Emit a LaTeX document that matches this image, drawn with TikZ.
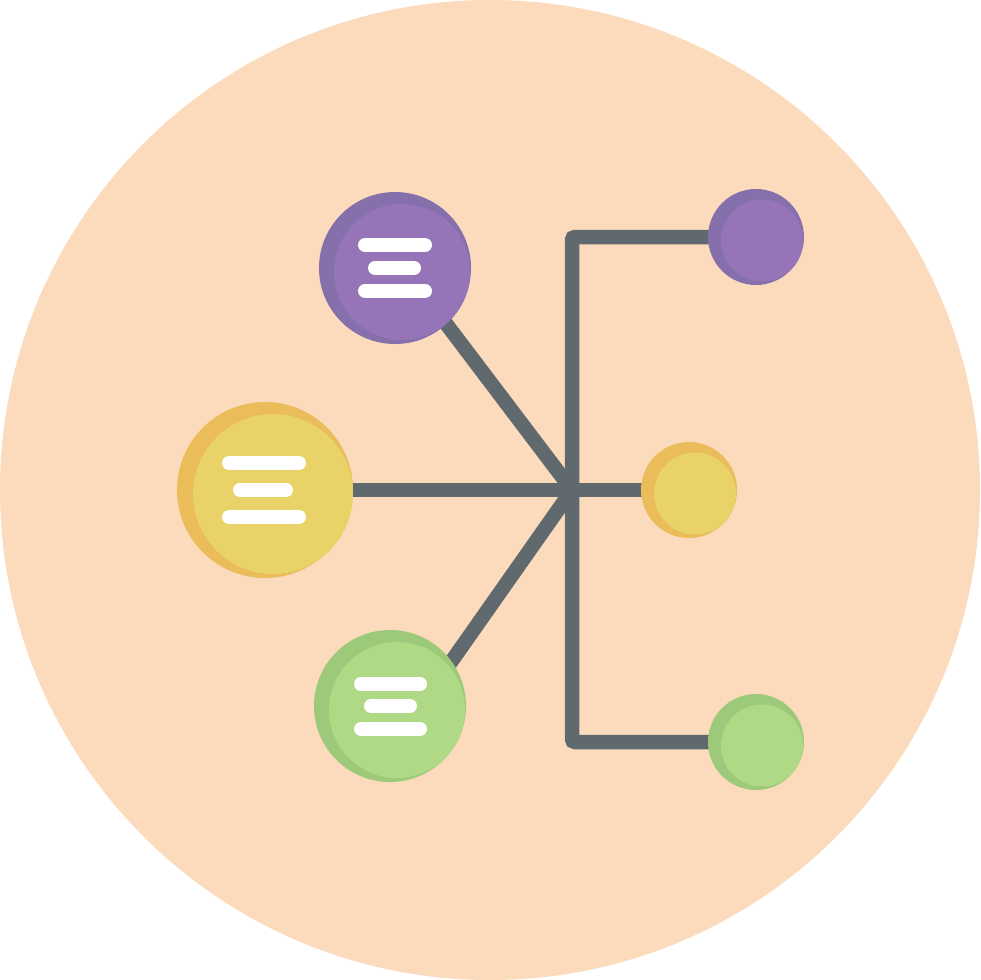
\documentclass[tikz,border=0pt]{standalone}
\begin{document}
\begin{tikzpicture}[x=1pt,y=-1pt]
\definecolor{peach}{HTML}{FCDBBD}
\definecolor{linkgray}{HTML}{5F696E}
\definecolor{purpleD}{HTML}{8570AC}
\definecolor{purpleL}{HTML}{9574B8}
\definecolor{yellowD}{HTML}{EABC5A}
\definecolor{yellowL}{HTML}{E9D268}
\definecolor{greenD}{HTML}{9DC97A}
\definecolor{greenL}{HTML}{AFD984}
\tikzset{
  link/.style={draw=linkgray, line width=14.5pt},
  bubble/.style={circle, inner sep=0pt, minimum size=#1},
  bar/.style={draw=white, line width=14pt, line cap=round},
}
\useasboundingbox (0,0) rectangle (980,980);
\fill[white] (0,0) rectangle (980,980);
\fill[peach] (490,490) circle (490);

% centres
\coordinate (hub) at (572,490);
\coordinate (pbc) at (395,268);
\coordinate (ybc) at (265,490);
\coordinate (gbc) at (390,706);
\coordinate (psc) at (756,237);
\coordinate (ysc) at (689,490);
\coordinate (gsc) at (756,742);
\coordinate (pa) at (416,284);
\coordinate (ga) at (425,699);
\coordinate (tc) at (572,237);
\coordinate (bc) at (572,742);

% connectors
\draw[link] (hub) -- (pa);
\draw[link] (hub) -- (ga);
\draw[link] (ybc) -- (ysc);
\draw[link, rounded corners=3pt] (psc) -- (tc) -- (bc) -- (gsc);

% big purple
\node[bubble=152pt, fill=purpleD] (pbig) at (pbc) {};
\fill[purpleL] (402,272) circle (68);
\draw[bar] (365,245) -- (425,245);
\draw[bar] (375,268) -- (414,268);
\draw[bar] (365,291) -- (425,291);

% big yellow
\node[bubble=176pt, fill=yellowD] (ybig) at (ybc) {};
\fill[yellowL] (273,494) circle (80);
\draw[bar] (229,463) -- (299,463);
\draw[bar] (240,490) -- (286,490);
\draw[bar] (229,517) -- (299,517);

% big green
\node[bubble=152pt, fill=greenD] (gbig) at (gbc) {};
\fill[greenL] (397,710) circle (68);
\draw[bar] (361,684) -- (420,684);
\draw[bar] (371,706) -- (410,706);
\draw[bar] (361,729) -- (420,729);

% small circles
\node[bubble=96pt, fill=purpleD] (psmall) at (psc) {};
\fill[purpleL] (762,240.5) circle (41);
\node[bubble=96pt, fill=yellowD] (ysmall) at (ysc) {};
\fill[yellowL] (695,493.5) circle (41);
\node[bubble=96pt, fill=greenD] (gsmall) at (gsc) {};
\fill[greenL] (762,745.5) circle (41);
\end{tikzpicture}
\end{document}
